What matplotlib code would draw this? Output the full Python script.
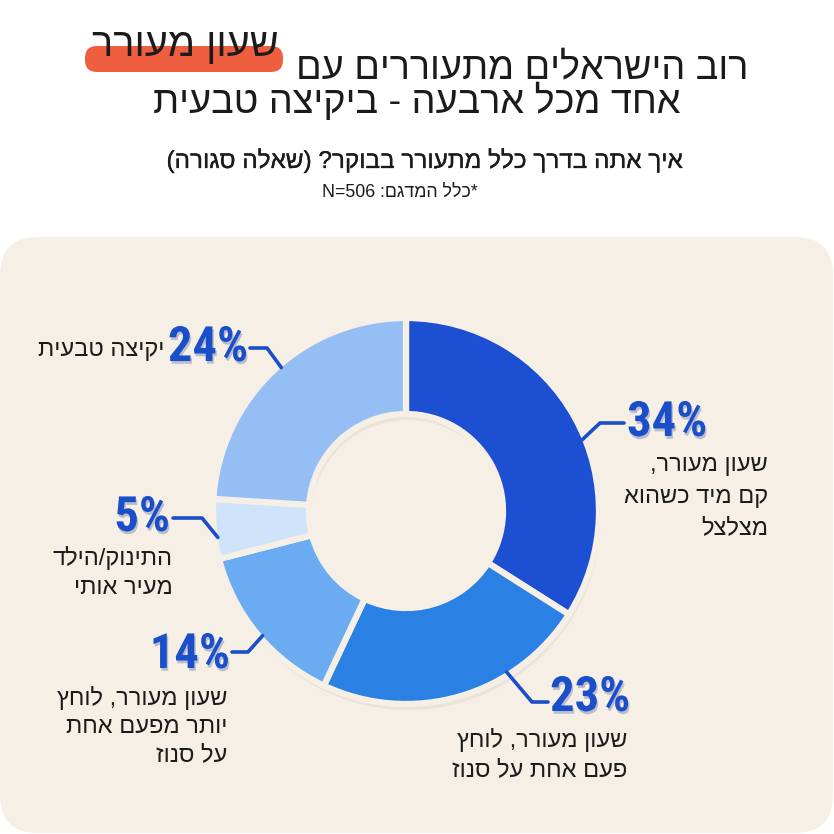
import re
import numpy as np
import matplotlib
matplotlib.use("Agg")
import matplotlib.pyplot as plt
import matplotlib.patheffects as pe
from matplotlib import font_manager
from matplotlib.ft2font import FT2Font
from matplotlib.patches import FancyBboxPatch

#---data---
shares = [34, 23, 14, 5, 24]
pct_labels = ["34%", "23%", "14%", "5%", "24%"]
answers = [
    ["שעון מעורר,", "קם מיד כשהוא", "מצלצל"],
    ["שעון מעורר, לוחץ", "פעם אחת על סנוז"],
    ["שעון מעורר, לוחץ", "יותר מפעם אחת", "על סנוז"],
    ["התינוק/הילד", "מעיר אותי"],
    ["יקיצה טבעית"],
]
slice_colors = ["#1c4fd2", "#2a80e3", "#6aabf1", "#cfe3fb", "#94bef4"]

title_main = "רוב הישראלים מתעוררים עם"
title_hl = "שעון מעורר"
title_2 = "אחד מכל ארבעה - ביקיצה טבעית"
subtitle = "איך אתה בדרך כלל מתעורר בבוקר? (שאלה סגורה)"
sample_note = "*כלל המדגם: N=506"

#---style---
W = H = 834
panel_color = "#f6efe6"
text_color = "#1b1b1b"
pct_color = "#1a4fc9"
hl_color = "#ef5e3f"
cx, cy = 406, 511          # donut centre, pixels from top
r_out, ring = 193, 96

# leader layout per slice: start angle on the ring, elbow, end, text x, label x, label y's
leaders = [
    dict(ang=22, elbow=(600, 423), end=(624, 423), tx=627, ha="left", ty=423, lx=768, ly=[465, 497, 528]),
    dict(ang=-58, elbow=(532, 702), end=(548, 702), tx=550, ha="left", ty=698, lx=627, ly=[740, 770]),
    dict(ang=-139, elbow=(248, 652), end=(232, 652), tx=230, ha="right", ty=655, lx=227, ly=[698, 727, 755]),
    dict(ang=188, elbow=(202, 518), end=(173, 518), tx=170, ha="right", ty=518, lx=173, ly=[558, 588]),
    dict(ang=131, elbow=(267, 348), end=(250, 348), tx=248, ha="right", ty=348, lx=164, ly=[350]),
]


mirror = str.maketrans("()", ")(")


def rtl(s):
    # matplotlib has no bidi -> flip hebrew runs by hand, keep latin/digit runs
    runs = re.findall(r"[A-Za-z0-9=%]+|[^A-Za-z0-9=%]+", s)
    out = []
    for r in runs[::-1]:
        if re.match(r"[A-Za-z0-9=%]", r):
            out.append(r)
        else:
            out.append(r[::-1].translate(mirror))
    return "".join(out)


def has_hebrew(family):
    try:
        path = font_manager.findfont(font_manager.FontProperties(family=family),
                                     fallback_to_default=False)
    except ValueError:
        return False
    return ord("א") in FT2Font(path).get_charmap()


heb_font = next(f for f in ["Liberation Sans", "Open Sans", "DejaVu Sans"] if has_hebrew(f))
names = {f.name for f in font_manager.fontManager.ttflist}
pct_font = next(f for f in ["Liberation Sans Narrow", "Roboto Condensed", "Roboto", "DejaVu Sans"] if f in names)
plt.rcParams["font.family"] = [heb_font, "DejaVu Sans"]


def Y(y):
    return H - y


fig = plt.figure(figsize=(W / 100, H / 100), dpi=100)
fig.patch.set_facecolor("white")
ax = fig.add_axes([0, 0, 1, 1])

# background panel
ax.add_patch(FancyBboxPatch((0, Y(833)), 833, 596, boxstyle="round,pad=0,rounding_size=38",
                            facecolor=panel_color, edgecolor="none", zorder=0))

# soft shadow under the ring
ax.pie(shares, colors=["#8a7f70"] * len(shares), startangle=90, counterclock=False,
       radius=r_out, center=(cx + 2, Y(cy) - 6),
       wedgeprops=dict(width=ring, edgecolor="none", alpha=0.10), frame=True)
wedges, _ = ax.pie(shares, colors=slice_colors, startangle=90, counterclock=False,
                   radius=r_out, center=(cx, Y(cy)),
                   wedgeprops=dict(width=ring, edgecolor=panel_color, linewidth=4.5, joinstyle="round"),
                   frame=True)

# leaders, percentages and answer labels
shadow = [pe.withSimplePatchShadow(offset=(1, -2), shadow_rgbFace="#0b2a80", alpha=0.25)]
for i, L in enumerate(leaders):
    a = np.deg2rad(L["ang"])
    x0, y0 = cx + (r_out - 3) * np.cos(a), Y(cy) + (r_out - 3) * np.sin(a)
    ax.plot([x0, L["elbow"][0], L["end"][0]], [y0, Y(L["elbow"][1]), Y(L["end"][1])],
            color=pct_color, lw=2.6, solid_capstyle="round", solid_joinstyle="round", zorder=3)
    ax.text(L["tx"], Y(L["ty"]), pct_labels[i], ha=L["ha"], va="center", fontsize=35,
            fontweight="bold", family=pct_font, color=pct_color, path_effects=shadow, zorder=4)
    for line, ly in zip(answers[i], L["ly"]):
        ax.text(L["lx"], Y(ly), rtl(line), ha="right", va="center", fontsize=17, color=text_color)

# titles
ax.add_patch(FancyBboxPatch((85, Y(72)), 198, 26, boxstyle="round,pad=0,rounding_size=12",
                            facecolor=hl_color, edgecolor="none", zorder=1))
ax.text(185, Y(56), rtl(title_hl), ha="center", va="baseline", fontsize=28.5, color=text_color, zorder=2)
ax.text(748, Y(78), rtl(title_main), ha="right", va="baseline", fontsize=27.3, color=text_color)
ax.text(417, Y(113), rtl(title_2), ha="center", va="baseline", fontsize=27.3, color=text_color)
ax.text(424, Y(168), rtl(subtitle), ha="center", va="baseline", fontsize=17.5, color=text_color,
        path_effects=[pe.withStroke(linewidth=0.2, foreground=text_color)])
ax.text(400, Y(197), rtl(sample_note), ha="center", va="baseline", fontsize=12.8, color=text_color)

ax.set_xlim(0, W)
ax.set_ylim(0, H)
ax.set_aspect("equal")
ax.axis("off")

fig.savefig("out.png", dpi=100, facecolor="white")
